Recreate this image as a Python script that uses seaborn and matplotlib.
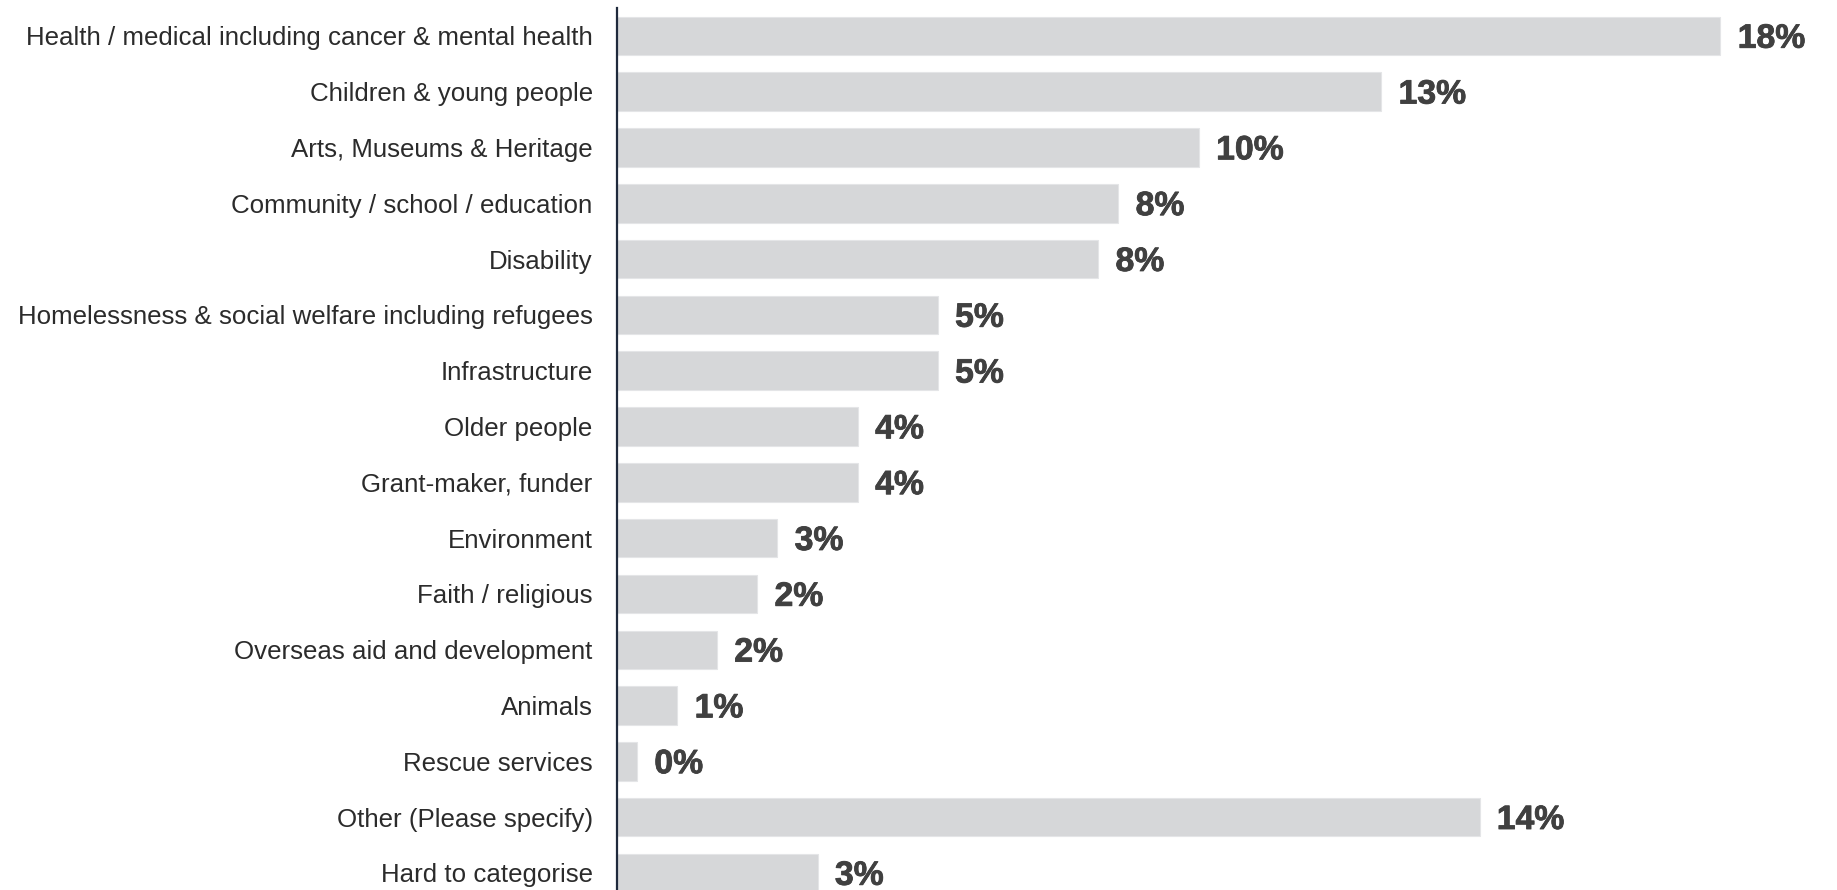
import matplotlib
matplotlib.use("Agg")
import matplotlib.pyplot as plt
import matplotlib.patheffects as pe
import seaborn as sns
import pandas as pd

# Share of organisations by cause area (%)
categories = [
    "Health / medical including cancer & mental health",
    "Children & young people",
    "Arts, Museums & Heritage",
    "Community / school / education",
    "Disability",
    "Homelessness & social welfare including refugees",
    "Infrastructure",
    "Older people",
    "Grant-maker, funder",
    "Environment",
    "Faith / religious",
    "Overseas aid and development",
    "Animals",
    "Rescue services",
    "Other (Please specify)",
    "Hard to categorise",
]
shares = [18.09, 12.53, 9.54, 8.22, 7.89, 5.26, 5.26, 3.95, 3.95,
          2.63, 2.30, 1.64, 0.99, 0.33, 14.14, 3.29]

df = pd.DataFrame({"category": categories, "share": shares})

sns.set_theme(style="white")
plt.rcParams["font.family"] = ["Liberation Sans", "DejaVu Sans"]

W, H = 1837, 890
fig = plt.figure(figsize=(W / 100, H / 100), dpi=100)
ax = fig.add_axes([617 / W, 0, 1 - 617 / W, 882 / H])

sns.barplot(data=df, x="share", y="category", orient="h",
            color="#D6D7D9", saturation=1, width=0.69,
            edgecolor="#E4E5E7", linewidth=0.8, ax=ax)

ax.set_xlim(0, 20.0)
ax.set_ylim(15.305, -0.5)
ax.set_xlabel("")
ax.set_ylabel("")
ax.set_xticks([])

for s in ["top", "right", "bottom"]:
    ax.spines[s].set_visible(False)
ax.spines["left"].set_color("#1F2A3C")
ax.spines["left"].set_linewidth(1.6)

ax.tick_params(axis="y", length=0, pad=17.5, labelsize=18.65, labelcolor="#2B2B2B")

heavy = [pe.withStroke(linewidth=0.6, foreground="#404040")]
for i, v in enumerate(shares):
    ax.annotate(f"{v:.0f}%", xy=(v, i), xytext=(12.4, -2.4),
                textcoords="offset points", ha="left", va="center",
                fontsize=24.3, fontweight="bold", color="#404040",
                path_effects=heavy)

fig.savefig("out.png", dpi=100)
